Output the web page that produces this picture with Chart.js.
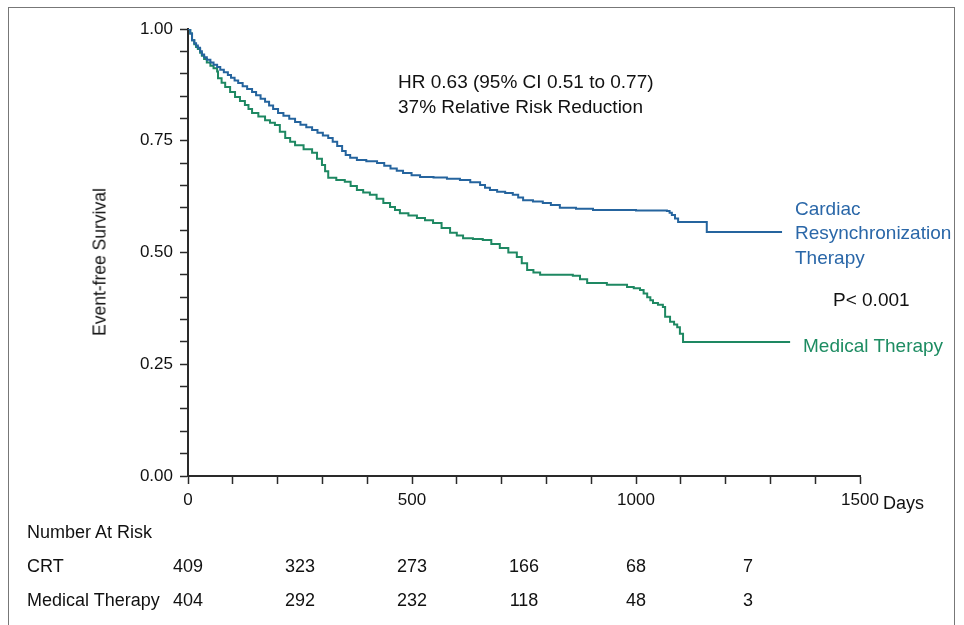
<!DOCTYPE html>
<html>
<head>
<meta charset="utf-8">
<script src="https://cdn.jsdelivr.net/npm/chart.js@4.4.0/dist/chart.umd.min.js"></script>
<style>
  html, body { margin: 0; padding: 0; background: #fff; }
  #wrap { position: relative; width: 964px; height: 625px; overflow: hidden;
          font-family: 'Liberation Sans', Arial, sans-serif; color: #111; }
  #c { position: absolute; left: 0; top: 0; }
  .t { position: absolute; white-space: nowrap; font-size: 18px; line-height: 1; transform: translateY(-50%); }
  .a { font-size: 19px; }
  .ctr { transform: translate(-50%, -50%); }
  #frame { position: absolute; left: 8px; top: 7px; width: 947px; height: 700px;
           border: 1px solid #777; box-sizing: border-box; }
  #ytitle { position: absolute; left: 100px; top: 262px; font-size: 17.5px; white-space: nowrap;
            transform: translate(-50%, -50%) rotate(-90deg); }
</style>
</head>
<body>
<div id="wrap">
  <div id="frame"></div>
  <canvas id="c" width="964" height="625"></canvas>
  <div id="ytitle">Event-free Survival</div>
  <div class="t a" style="left:398px;top:81px;">HR 0.63 (95% CI 0.51 to 0.77)</div>
  <div class="t a" style="left:398px;top:106px;">37% Relative Risk Reduction</div>
  <div class="t a" style="left:795px;top:208px;color:#2a67a8;">Cardiac</div>
  <div class="t a" style="left:795px;top:232px;color:#2a67a8;">Resynchronization</div>
  <div class="t a" style="left:795px;top:257px;color:#2a67a8;">Therapy</div>
  <div class="t a" style="left:833px;top:299px;">P&lt; 0.001</div>
  <div class="t a" style="left:803px;top:345px;color:#1d8c62;">Medical Therapy</div>
  <div class="t" style="left:883px;top:503px;">Days</div>
  <div class="t" style="left:27px;top:532px;">Number At Risk</div>
  <div class="t" style="left:27px;top:566px;">CRT</div>
  <div class="t" style="left:27px;top:600px;">Medical Therapy</div>
</div>
<script>
// ---- Data ----
const crtDays = [0, 5, 9, 14, 18, 22, 27, 31, 36, 42, 50, 57, 65, 72, 80, 89, 96, 104, 112, 122, 132, 143, 152, 162, 172, 181, 190, 201, 213, 226, 239, 251, 264, 277, 289, 301, 313, 323, 333, 344, 352, 362, 377, 398, 422, 438, 452, 466, 480, 499, 518, 548, 578, 607, 630, 652, 663, 674, 690, 708, 725, 737, 748, 770, 792, 810, 830, 866, 904, 1000, 1069, 1075, 1080, 1087, 1094, 1158, 1326];
const crtSurv = [1.0, 0.99, 0.975, 0.968, 0.963, 0.958, 0.950, 0.943, 0.937, 0.931, 0.925, 0.920, 0.915, 0.909, 0.903, 0.897, 0.891, 0.885, 0.879, 0.872, 0.866, 0.859, 0.852, 0.844, 0.837, 0.829, 0.821, 0.812, 0.806, 0.799, 0.792, 0.786, 0.780, 0.774, 0.768, 0.762, 0.756, 0.748, 0.738, 0.727, 0.718, 0.712, 0.707, 0.704, 0.700, 0.694, 0.688, 0.683, 0.678, 0.673, 0.669, 0.668, 0.665, 0.662, 0.657, 0.651, 0.645, 0.640, 0.636, 0.633, 0.629, 0.623, 0.617, 0.614, 0.611, 0.606, 0.600, 0.598, 0.595, 0.594, 0.593, 0.589, 0.584, 0.576, 0.568, 0.546, 0.546];

const medDays = [0, 5, 9, 14, 18, 22, 27, 31, 36, 42, 50, 57, 65, 67, 75, 83, 94, 105, 116, 127, 135, 143, 157, 172, 183, 194, 205, 217, 228, 239, 258, 277, 288, 299, 306, 313, 331, 350, 363, 377, 391, 406, 421, 436, 451, 462, 473, 492, 511, 529, 547, 566, 585, 600, 614, 636, 658, 677, 696, 715, 734, 745, 757, 771, 786, 859, 875, 891, 935, 980, 995, 1009, 1017, 1025, 1032, 1038, 1049, 1060, 1065, 1076, 1085, 1092, 1098, 1105, 1344];
const medSurv = [1.0, 0.99, 0.975, 0.966, 0.960, 0.955, 0.947, 0.940, 0.933, 0.925, 0.918, 0.912, 0.905, 0.890, 0.880, 0.870, 0.859, 0.848, 0.839, 0.830, 0.821, 0.812, 0.804, 0.796, 0.790, 0.785, 0.770, 0.756, 0.748, 0.740, 0.731, 0.723, 0.710, 0.696, 0.682, 0.667, 0.662, 0.658, 0.649, 0.640, 0.634, 0.629, 0.620, 0.611, 0.602, 0.595, 0.588, 0.583, 0.577, 0.572, 0.566, 0.555, 0.544, 0.538, 0.532, 0.530, 0.528, 0.519, 0.510, 0.500, 0.490, 0.476, 0.461, 0.455, 0.450, 0.448, 0.440, 0.432, 0.428, 0.423, 0.420, 0.416, 0.408, 0.400, 0.393, 0.387, 0.383, 0.378, 0.356, 0.345, 0.339, 0.333, 0.318, 0.300, 0.300];

const riskDays = [0, 250, 500, 750, 1000, 1250];
const crtAtRisk = [409, 323, 273, 166, 68, 7];
const medAtRisk = [404, 292, 232, 118, 48, 3];

const xLabelTicks = [0, 500, 1000, 1500];
const yLabelTicks = [0, 0.25, 0.5, 0.75, 1.0];

const toPts = (xs, ys) => xs.map((x, i) => ({ x: x, y: ys[i] }));

const FONT = "'Liberation Sans', Arial, sans-serif";
const AX = '#2a2a2a';

const chart = new Chart(document.getElementById('c'), {
  type: 'line',
  data: {
    datasets: [
      { label: 'Cardiac Resynchronization Therapy', data: toPts(crtDays, crtSurv),
        borderColor: '#25649e', borderWidth: 2, pointRadius: 0, stepped: true, fill: false },
      { label: 'Medical Therapy', data: toPts(medDays, medSurv),
        borderColor: '#1e8862', borderWidth: 2, pointRadius: 0, stepped: true, fill: false }
    ]
  },
  options: {
    responsive: false,
    animation: false,
    devicePixelRatio: 1,
    layout: { padding: { left: 0, top: 29, right: 104, bottom: 0 } },
    plugins: { legend: { display: false }, tooltip: { enabled: false } },
    scales: {
      x: {
        type: 'linear', min: 0, max: 1500,
        afterFit: s => { s.height = 149; },
        grid: { drawOnChartArea: false, drawTicks: true, tickLength: 8, color: AX, tickWidth: 1.5 },
        border: { display: true, color: AX, width: 2 },
        ticks: {
          stepSize: 100, autoSkip: false, maxRotation: 0, padding: 6,
          color: '#111', font: { family: FONT, size: 17 },
          callback: v => xLabelTicks.includes(Math.round(v)) ? String(Math.round(v)) : ''
        }
      },
      y: {
        type: 'linear', min: 0, max: 1,
        afterFit: s => { s.width = 188; },
        grid: { drawOnChartArea: false, drawTicks: true, tickLength: 8, color: AX, tickWidth: 1.5 },
        border: { display: true, color: AX, width: 2 },
        ticks: {
          stepSize: 0.05, autoSkip: false, padding: 7,
          color: '#111', font: { family: FONT, size: 17 },
          callback: v => {
            const r = Math.round(v * 100) / 100;
            return yLabelTicks.some(t => Math.abs(t - r) < 1e-6) ? r.toFixed(2) : '';
          }
        }
      }
    }
  }
});

// risk table numbers positioned with the x scale
const wrap = document.getElementById('wrap');
function addNum(txt, day, y) {
  const d = document.createElement('div');
  d.className = 't ctr';
  d.textContent = txt;
  d.style.left = chart.scales.x.getPixelForValue(day) + 'px';
  d.style.top = y + 'px';
  wrap.appendChild(d);
}
riskDays.forEach((d, i) => { addNum(crtAtRisk[i], d, 566); addNum(medAtRisk[i], d, 600); });
</script>
</body>
</html>
